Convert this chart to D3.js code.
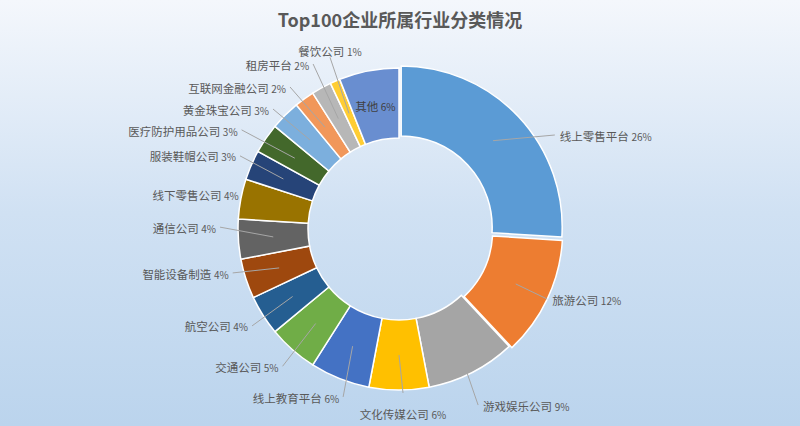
<!DOCTYPE html>
<html>
<head>
<meta charset="utf-8">
<script src="https://cdn.jsdelivr.net/npm/d3@7"></script>
<style>
  html, body { margin: 0; padding: 0; }
  svg { display: block; }
</style>
</head>
<body>
<svg width="800" height="426"></svg>
<script>
const categories = ["线上零售平台", "旅游公司", "游戏娱乐公司", "文化传媒公司", "线上教育平台", "交通公司",
  "航空公司", "智能设备制造", "通信公司", "线下零售公司", "服装鞋帽公司", "医疗防护用品公司",
  "黄金珠宝公司", "互联网金融公司", "租房平台", "餐饮公司", "其他"];
const shares = [26, 12, 9, 6, 6, 5, 4, 4, 4, 4, 3, 3, 3, 2, 2, 1, 6];
const colors = ["#5b9bd5", "#ed7d31", "#a5a5a5", "#ffc000", "#4472c4", "#70ad47", "#255e91", "#9e480e",
  "#636363", "#997300", "#264478", "#43682b", "#7cafdd", "#f1975a", "#b7b7b7", "#ffcd33", "#698ed0"];

// label placement: [angle in degrees, distance from centre, side]
const labelLayout = [
  [58.9, 182, "start"], [115.3, 164, "start"], [155.8, 193, "start"], [178.6, 164, "below"],
  [198.4, 177, "end"], [220.3, 180, "end"], [236.6, 176, "end"], [255.2, 172, "end"],
  [270.6, 179, "end"], [282.4, 160, "end"], [294.7, 175, "end"], [302.2, 186, "end"],
  [313.6, 174, "end"], [322.5, 179, "end"], [332.5, 186, "end"], [338.1, 185, "above"],
  [null, null, "inside"]
];
const explode = [3, 3];

const svg = d3.select("svg");
const width = +svg.attr("width");
const height = +svg.attr("height");
const cx = 399, cy = 229;
const rIn = 91, rOut = 161;

const defs = svg.append("defs");
const grad = defs.append("linearGradient")
  .attr("id", "bg")
  .attr("x1", 0).attr("y1", 0).attr("x2", 0).attr("y2", 1);
grad.append("stop").attr("offset", "0%").attr("stop-color", "#f4f7fc");
grad.append("stop").attr("offset", "50%").attr("stop-color", "#d0e1f3");
grad.append("stop").attr("offset", "100%").attr("stop-color", "#bbd4ed");

svg.append("rect")
  .attr("width", width)
  .attr("height", height)
  .attr("fill", "url(#bg)");

svg.append("text")
  .attr("x", width / 2)
  .attr("y", 27)
  .attr("text-anchor", "middle")
  .style("font-family", "'Noto Sans CJK SC', sans-serif")
  .style("font-size", "18px")
  .style("font-weight", "bold")
  .attr("fill", "#595959")
  .text("Top100企业所属行业分类情况");

const data = categories.map((c, i) => ({ name: c, value: shares[i], color: colors[i], i: i }));

const pie = d3.pie().sort(null).value(d => d.value);
const arcs = pie(data);
const arc = d3.arc().innerRadius(rIn).outerRadius(rOut);
const midArc = d3.arc().innerRadius((rIn + rOut) / 2).outerRadius((rIn + rOut) / 2);

const g = svg.append("g").attr("transform", `translate(${cx},${cy})`);

function shift(d) {
  const e = explode[d.index] || 0;
  const a = (d.startAngle + d.endAngle) / 2;
  return [e * Math.sin(a), -e * Math.cos(a)];
}

g.selectAll("path.slice")
  .data(arcs)
  .join("path")
  .attr("class", "slice")
  .attr("d", arc)
  .attr("transform", d => `translate(${shift(d)})`)
  .attr("fill", d => d.data.color)
  .attr("stroke", "#ffffff")
  .attr("stroke-width", 1.5);

function polar(angleDeg, r) {
  const a = angleDeg * Math.PI / 180;
  return [r * Math.sin(a), -r * Math.cos(a)];
}

const labels = g.append("g");

arcs.forEach(d => {
  const [ang, rad, side] = labelLayout[d.index];
  const c = midArc.centroid(d);
  const s = shift(d);
  const start = [c[0] + s[0], c[1] + s[1]];
  let tx, ty, anchor, p;
  if (side === "inside") {
    tx = start[0]; ty = start[1]; anchor = "middle";
  } else {
    p = polar(ang, rad);
    if (rad > rOut) {
      labels.append("line")
        .attr("x1", start[0]).attr("y1", start[1])
        .attr("x2", p[0]).attr("y2", p[1])
        .attr("stroke", "#a6a6a6")
        .attr("stroke-width", 1);
    }
    if (side === "start") { tx = p[0] + 5; ty = p[1]; anchor = "start"; }
    else if (side === "end") { tx = p[0] - 4; ty = p[1]; anchor = "end"; }
    else if (side === "below") { tx = p[0]; ty = p[1] + 20; anchor = "middle"; }
    else { tx = p[0]; ty = p[1] - 7; anchor = "middle"; }
  }
  const t = labels.append("text")
    .attr("x", tx)
    .attr("y", ty)
    .attr("dy", "0.35em")
    .attr("text-anchor", anchor)
    .style("font-family", "'Noto Sans CJK SC', sans-serif")
    .attr("fill", side === "inside" ? "#404040" : "#595959");
  t.append("tspan").style("font-size", "11.5px").text(d.data.name + " ");
  t.append("tspan").style("font-size", "10px").text(d.data.value + "%");
});
</script>
</body>
</html>
